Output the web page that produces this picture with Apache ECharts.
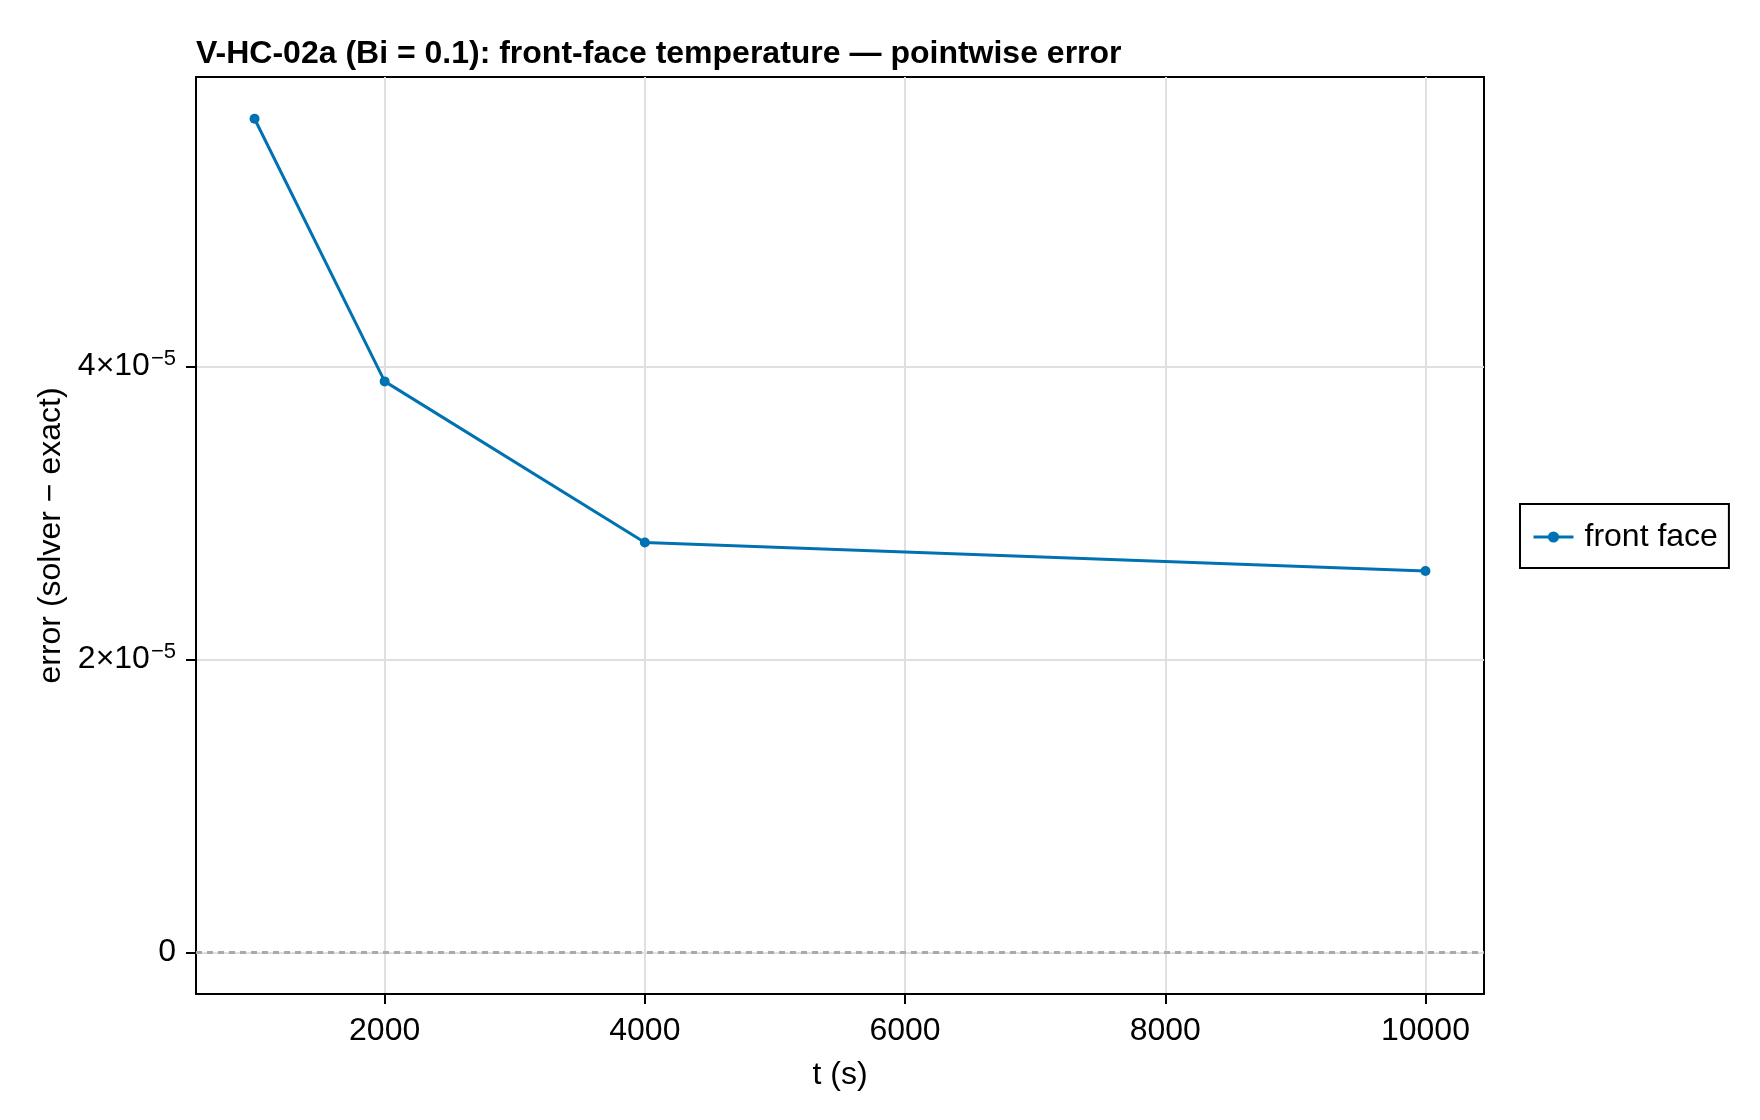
<!DOCTYPE html>
<html>
<head>
<meta charset="utf-8">
<script src="https://cdn.jsdelivr.net/npm/echarts@6/dist/echarts.min.js"></script>
<style>
html,body{margin:0;padding:0;background:#fff;}
#chart{width:1760px;height:1120px;}
</style>
</head>
<body>
<div id="chart"></div>
<script>
const titleText = 'V-HC-02a (Bi = 0.1): front-face temperature — pointwise error';
const seriesName = 'front face';
const tValues = [1000, 2000, 4000, 10000];
const errValues = [5.69e-5, 3.897e-5, 2.797e-5, 2.603e-5];
const xTicks = [2000, 4000, 6000, 8000, 10000];
const xTickLabels = ['2000', '4000', '6000', '8000', '10000'];
const yTicks = [0, 2e-5, 4e-5];
const yTickLabels = [['0', ''], ['2×10', '−5'], ['4×10', '−5']];
const xRange = [550, 10450];
const yRange = [-2.85e-6, 5.975e-5];

const FONT = 'Liberation Sans';
const chart = echarts.init(document.getElementById('chart'), null, {renderer: 'canvas'});

function yLabel(v) {
  for (let i = 0; i < yTicks.length; i++) {
    if (Math.abs(v - yTicks[i]) < 1e-9) {
      const p = yTickLabels[i];
      return p[1] ? '{m|' + p[0] + '}{s|' + p[1] + '}' : '{m|' + p[0] + '}';
    }
  }
  return '';
}
function xLabel(v) {
  for (let i = 0; i < xTicks.length; i++) {
    if (Math.abs(v - xTicks[i]) < 1e-6) return xTickLabels[i];
  }
  return '';
}

chart.setOption({
  backgroundColor: '#ffffff',
  animation: false,
  textStyle: {fontFamily: FONT},
  title: {
    text: titleText,
    left: 196, top: 38, padding: 0,
    textStyle: {fontFamily: FONT, fontSize: 32, fontWeight: 'bold', color: '#000'}
  },
  legend: {
    show: true,
    left: 1520, top: 504,
    orient: 'vertical',
    padding: [17, 11, 15, 12],
    borderColor: '#000', borderWidth: 2, borderRadius: 0,
    backgroundColor: '#fff',
    itemWidth: 40, itemHeight: 14,
    lineStyle: {width: 3},
    textStyle: {fontFamily: FONT, fontSize: 32, color: '#000', lineHeight: 32, padding: [0, 0, 0, 6]},
    data: [{name: seriesName}]
  },
  grid: {
    left: 196, right: 276, top: 77, bottom: 126,
    show: true, borderColor: '#000', borderWidth: 2, backgroundColor: 'transparent',
    containLabel: false
  },
  xAxis: {
    type: 'value',
    min: xRange[0], max: xRange[1],
    splitNumber: 5,
    name: 't (s)', nameLocation: 'middle', nameGap: 65,
    nameTextStyle: {fontFamily: FONT, fontSize: 32, color: '#000'},
    axisLine: {show: true, onZero: false, lineStyle: {color: '#000', width: 2}},
    axisTick: {show: true, length: 10, lineStyle: {color: '#000', width: 2}, customValues: xTicks},
    axisLabel: {show: true, margin: 21, fontFamily: FONT, fontSize: 32, color: '#000', formatter: xLabel, customValues: xTicks},
    splitLine: {show: true, lineStyle: {color: '#e0e0e0', width: 2}}
  },
  yAxis: {
    type: 'value',
    min: yRange[0], max: yRange[1],
    splitNumber: 3,
    name: 'error (solver − exact)', nameLocation: 'middle', nameGap: 126, nameRotate: 90,
    nameTextStyle: {fontFamily: FONT, fontSize: 32, color: '#000'},
    axisLine: {show: true, onZero: false, lineStyle: {color: '#000', width: 2}},
    axisTick: {show: true, length: 10, lineStyle: {color: '#000', width: 2}, customValues: yTicks},
    axisLabel: {
      show: true, margin: 20, formatter: yLabel, customValues: yTicks,
      rich: {
        m: {fontFamily: FONT, fontSize: 32, color: '#000', lineHeight: 32},
        s: {fontFamily: FONT, fontSize: 22, color: '#000', lineHeight: 22, padding: [0, 0, 14, 1]}
      }
    },
    splitLine: {show: true, lineStyle: {color: '#e0e0e0', width: 2}}
  },
  series: [{
    name: seriesName,
    type: 'line',
    data: tValues.map((t, i) => [t, errValues[i]]),
    color: '#0072B2',
    lineStyle: {color: '#0072B2', width: 3},
    itemStyle: {color: '#0072B2'},
    symbol: 'circle', symbolSize: 10, showSymbol: true,
    z: 5,
    markLine: {
      silent: true,
      symbol: ['none', 'none'],
      label: {show: false},
      lineStyle: {color: '#aaaaaa', width: 3, type: [6, 5]},
      data: [{yAxis: 0}],
      z: 3
    }
  }]
});
</script>
</body>
</html>
